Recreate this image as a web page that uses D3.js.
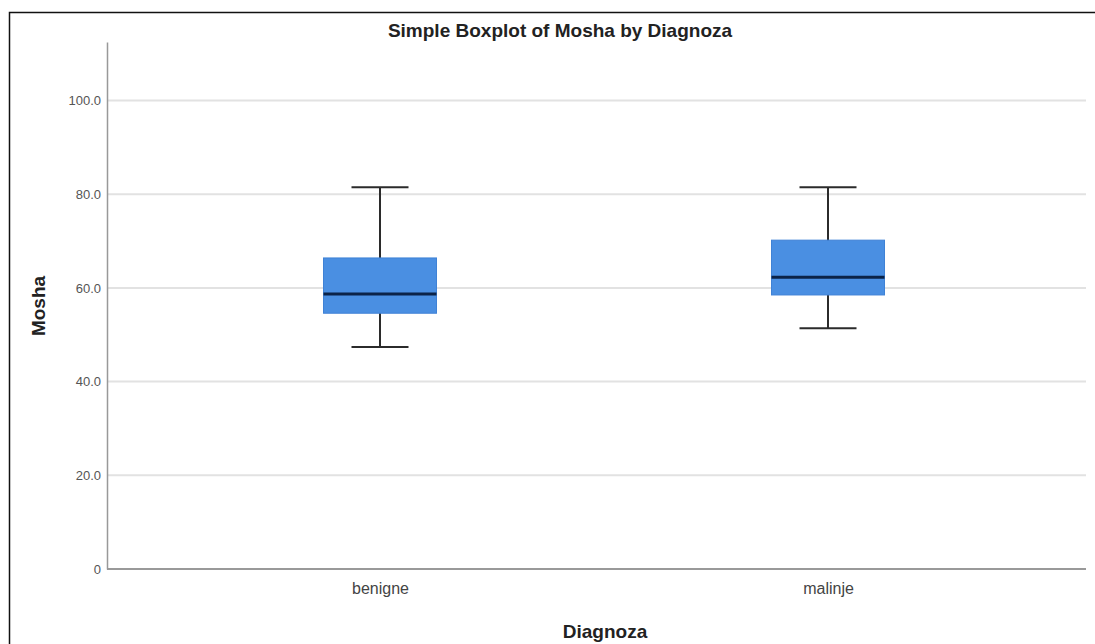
<!DOCTYPE html>
<html>
<head>
<meta charset="utf-8">
<script src="https://cdn.jsdelivr.net/npm/d3@7"></script>
<style>
body { margin: 0; background: #fff; }
text { font-family: "Liberation Sans", Arial, sans-serif; }
</style>
</head>
<body>
<div class="chart"></div>
<script>
// boxplot of age (Mosha) by diagnosis
var categories = ["benigne", "malinje"];
var whiskerLow = [47.4, 51.4];
var q1 = [54.6, 58.5];
var median = [58.7, 62.3];
var q3 = [66.4, 70.2];
var whiskerHigh = [81.5, 81.5];
var yTicks = [0, 20, 40, 60, 80, 100];

var W = 1095, H = 644;
var svg = d3.select(".chart").append("svg")
    .attr("width", W)
    .attr("height", H);

// outer frame
svg.append("rect")
    .attr("x", 9.5).attr("y", 12.5)
    .attr("width", 1100).attr("height", 650)
    .attr("fill", "none")
    .attr("stroke", "#111")
    .attr("stroke-width", 1.5);

var left = 107, right = 1086, bottom = 569;

var y = d3.scaleLinear().domain([0, 112.5]).range([bottom, 42]);
var x = d3.scalePoint().domain(categories).range([156, 1052]).padding(0.5);

// gridlines
svg.append("g").selectAll("line")
    .data(yTicks.filter(function(d) { return d > 0; }))
    .enter().append("line")
    .attr("x1", left).attr("x2", right)
    .attr("y1", function(d) { return y(d); })
    .attr("y2", function(d) { return y(d); })
    .attr("stroke", "#e2e2e2")
    .attr("stroke-width", 2);

// y axis
var yAxis = svg.append("g")
    .attr("transform", "translate(" + left + ",0)")
    .call(d3.axisLeft(y).tickValues(yTicks).tickSize(0).tickPadding(6)
        .tickFormat(function(d) { return d === 0 ? "0" : d3.format(".1f")(d); }));
yAxis.select(".domain").attr("stroke", "#999").attr("stroke-width", 1.5);
yAxis.selectAll("text")
    .attr("font-size", "13px")
    .attr("fill", "#555");

// x axis
var xAxis = svg.append("g")
    .attr("transform", "translate(0," + bottom + ")")
    .call(d3.axisBottom(x).tickSize(0).tickPadding(14));
xAxis.select(".domain").attr("d", "M" + left + ",0H" + right)
    .attr("stroke", "#999").attr("stroke-width", 2);
xAxis.selectAll("text")
    .attr("font-size", "16px")
    .attr("fill", "#444");

var boxW = 113, capW = 57;

var boxes = svg.append("g").selectAll("g")
    .data(categories)
    .enter().append("g");

// whisker stem
boxes.append("line")
    .attr("x1", function(d) { return x(d); })
    .attr("x2", function(d) { return x(d); })
    .attr("y1", function(d, i) { return y(whiskerLow[i]); })
    .attr("y2", function(d, i) { return y(whiskerHigh[i]); })
    .attr("stroke", "#2b2b2b").attr("stroke-width", 2);

// caps
boxes.append("line")
    .attr("x1", function(d) { return x(d) - capW / 2; })
    .attr("x2", function(d) { return x(d) + capW / 2; })
    .attr("y1", function(d, i) { return y(whiskerHigh[i]); })
    .attr("y2", function(d, i) { return y(whiskerHigh[i]); })
    .attr("stroke", "#2b2b2b").attr("stroke-width", 2);
boxes.append("line")
    .attr("x1", function(d) { return x(d) - capW / 2; })
    .attr("x2", function(d) { return x(d) + capW / 2; })
    .attr("y1", function(d, i) { return y(whiskerLow[i]); })
    .attr("y2", function(d, i) { return y(whiskerLow[i]); })
    .attr("stroke", "#2b2b2b").attr("stroke-width", 2);

// box
boxes.append("rect")
    .attr("x", function(d) { return x(d) - boxW / 2; })
    .attr("width", boxW)
    .attr("y", function(d, i) { return y(q3[i]); })
    .attr("height", function(d, i) { return y(q1[i]) - y(q3[i]); })
    .attr("fill", "#4a8fe2")
    .attr("stroke", "#3f82d6")
    .attr("stroke-width", 1);

// median
boxes.append("line")
    .attr("x1", function(d) { return x(d) - boxW / 2; })
    .attr("x2", function(d) { return x(d) + boxW / 2; })
    .attr("y1", function(d, i) { return y(median[i]); })
    .attr("y2", function(d, i) { return y(median[i]); })
    .attr("stroke", "#0b2348").attr("stroke-width", 3);

// title and axis labels
svg.append("text")
    .attr("x", 560).attr("y", 37)
    .attr("text-anchor", "middle")
    .attr("font-size", "19px")
    .attr("font-weight", 700)
    .attr("fill", "#222")
    .text("Simple Boxplot of Mosha by Diagnoza");

svg.append("text")
    .attr("transform", "translate(45,306) rotate(-90)")
    .attr("text-anchor", "middle")
    .attr("font-size", "19px")
    .attr("font-weight", 700)
    .attr("fill", "#222")
    .text("Mosha");

svg.append("text")
    .attr("x", 605).attr("y", 638)
    .attr("text-anchor", "middle")
    .attr("font-size", "19px")
    .attr("font-weight", 700)
    .attr("fill", "#222")
    .text("Diagnoza");
</script>
</body>
</html>
